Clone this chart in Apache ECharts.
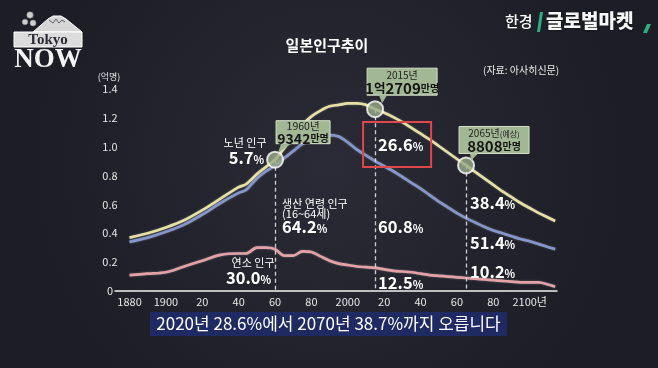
<!DOCTYPE html>
<html><head><meta charset="utf-8">
<script src="https://cdn.jsdelivr.net/npm/echarts@6/dist/echarts.min.js"></script>
<style>html,body{margin:0;padding:0;background:#22232d}#c{width:658px;height:368px}</style>
</head><body><div id="c"></div><script>
// ---- data (population, 100 million people) ----
const years      = [1880,1890,1900,1910,1920,1930,1940,1944,1950,1955,1960,1965,1970,1975,1980,1985,1990,1995,2000,2005,2010,2015,2020,2025,2030,2035,2040,2045,2050,2055,2060,2065,2070,2075,2080,2085,2090,2095,2100,2105,2110,2114];
const totalPop   = [0.37,0.40,0.44,0.49,0.56,0.64,0.72,0.74,0.81,0.86,0.91,0.99,1.07,1.15,1.21,1.25,1.28,1.29,1.30,1.30,1.29,1.26,1.235,1.205,1.17,1.13,1.09,1.05,1.005,0.96,0.915,0.87,0.825,0.78,0.735,0.69,0.65,0.61,0.575,0.54,0.51,0.485];
const under65Pop = [0.34,0.37,0.41,0.46,0.53,0.61,0.68,0.70,0.78,0.83,0.87,0.92,0.97,1.02,1.05,1.07,1.08,1.07,1.03,0.98,0.94,0.90,0.865,0.83,0.79,0.75,0.71,0.665,0.62,0.58,0.54,0.505,0.475,0.445,0.42,0.40,0.38,0.36,0.345,0.325,0.305,0.29];
const youngPop   = [0.11,0.12,0.13,0.17,0.21,0.25,0.26,0.26,0.30,0.30,0.29,0.245,0.245,0.275,0.27,0.24,0.21,0.19,0.18,0.17,0.165,0.16,0.15,0.14,0.135,0.13,0.12,0.11,0.105,0.10,0.095,0.09,0.085,0.08,0.075,0.07,0.065,0.06,0.06,0.06,0.045,0.03];
const markerYears  = [1960, 2015, 2065];
const markerTitles = ['1960년', '2015년', '2065년'];
const markerValues = [['9342','만명'], ['1','억','2709','만명'], ['8808','만명']];
const elderlyShare = ['5.7', '26.6', '38.4'];
const workingShare = ['64.2', '60.8', '51.4'];
const youngShare   = ['30.0', '12.5', '10.2'];
const xTickYears = [1880,1900,1920,1940,1960,1980,2000,2020,2040,2060,2080,2100];
const yMax = 1.4, yStep = 0.2;

const FONT = "'Noto Sans CJK KR', 'Noto Sans', sans-serif";
const chart = echarts.init(document.getElementById('c'), null, {renderer:'canvas'});
const pair = arr => years.map((y,i)=>[y, arr[i]]);
const totalAt = y => totalPop[years.indexOf(y)];

function lineSeries(name, arr, color, z){
  return {name, type:'line', data: pair(arr), symbol:'none', smooth:0.3, z,
    lineStyle:{color, width:2.7, shadowColor:'rgba(255,255,255,0.35)', shadowBlur:2},
    silent:true, animation:false};
}

chart.setOption({
  backgroundColor: {type:'radial', x:0.5, y:0.45, r:0.8, colorStops:[{offset:0,color:'#2a2b36'},{offset:1,color:'#1c1d25'}]},
  animation:false,
  textStyle:{fontFamily:FONT},
  grid:{left:115, right:101, top:89, bottom:77},
  xAxis:{type:'value', min:1872, max:2115,
    axisLine:{lineStyle:{color:'#f2f2f2', width:1.5}},
    axisTick:{show:false}, splitLine:{show:false},
    axisLabel:{customValues:xTickYears, color:'#e6e6e6', fontSize:11, margin:5, fontFamily:FONT,
      formatter:v=> v===2100 ? '2100년' : (v%100===0 || v===1880 ? String(v) : String(v%100))}
  },
  yAxis:{type:'value', min:0, max:yMax, interval:yStep,
    axisLine:{show:false}, axisTick:{show:false}, splitLine:{show:false},
    axisLabel:{color:'#e6e6e6', fontSize:11, margin:5, align:'center', fontFamily:FONT,
      formatter:v=> v===0 ? '0' : v.toFixed(1)}
  },
  series:[
    lineSeries('연소 인구', youngPop, '#e4a2a6', 3),
    lineSeries('생산 연령 인구', under65Pop, '#8596cc', 4),
    lineSeries('총인구', totalPop, '#e6e0a2', 5),
    {type:'scatter', z:10, silent:true, animation:false,
      data: markerYears.map(y=>[y, totalAt(y)]),
      symbolSize:16,
      itemStyle:{color:'#9aad8b', borderColor:'#ffffff', borderWidth:2},
      markLine:{silent:true, symbol:'none', animation:false, label:{show:false},
        lineStyle:{color:'#cfcfd4', type:[4,3], width:1.3},
        data: markerYears.map(y=>[{coord:[y, totalAt(y)]},{coord:[y, 0]}])}
    }
  ]
});

function txt(x,y,text,opt){
  return {type:'text', x, y, z:50, silent:true,
    style:Object.assign({text, fill:'#ffffff', fontFamily:FONT, fontSize:11, align:'left', verticalAlign:'middle'}, opt||{})};
}
function pct(x,y,num,align){
  return {type:'text', x, y, z:50, silent:true, style:{
    text:'{n|'+num+'}{p|%}', align:align||'left', verticalAlign:'middle',
    rich:{n:{fontFamily:FONT, fontSize:16.5, fontWeight:'bold', fill:'#ffffff'},
          p:{fontFamily:FONT, fontSize:11, fontWeight:'bold', fill:'#ffffff', padding:[3,0,0,0]}}}};
}

function build(){
  const P = (x,y)=>chart.convertToPixel({gridIndex:0},[x,y]);
  const g = [];
  // title & source
  g.push(txt(327,45,'일본인구추이',{fontSize:15, fontWeight:'bold', align:'center'}));
  g.push(txt(483,70,'(자료: 아사히신문)',{fontSize:10, fill:'#eeeeee'}));
  g.push(txt(109,77,'(억명)',{fontSize:9, fill:'#e6e6e6', align:'center'}));

  // Tokyo NOW logo
  g.push({type:'polygon', z:40, silent:true, shape:{points:[[33,32],[48,19],[53,16],[61,16],[66,19],[82,32]]}, style:{fill:'#d6d6d6', stroke:'#ffffff', lineWidth:1}});
  g.push({type:'polyline', z:41, silent:true, shape:{points:[[49,20],[53,23],[56,19],[59,23],[62,20],[65,22]]}, style:{stroke:'#5a5a66', lineWidth:1, fill:null}});
  g.push({type:'rect', z:40, silent:true, shape:{x:14,y:32,width:68,height:15}, style:{fill:'#dcdcdc', stroke:'#ffffff', lineWidth:1}});
  g.push(txt(48,40,'Tokyo',{fontFamily:"'Liberation Serif', serif", fontSize:15, fontWeight:'bold', fill:'#2b2b33', align:'center'}));
  g.push(txt(48,60,'NOW',{fontFamily:"'Liberation Serif', serif", fontSize:27, fontWeight:'bold', fill:'#f4f4f4', align:'center'}));
  [[30,15,3.2],[25,22,2.8],[33,23,3]].forEach(c=>g.push({type:'circle', z:40, silent:true, shape:{cx:c[0],cy:c[1],r:c[2]}, style:{fill:'#cfcfcf', stroke:'#8a8a92', lineWidth:0.6}}));

  // 한경 글로벌마켓 logo
  g.push(txt(505,21,'한경',{fontSize:15, fontWeight:500}));
  g.push({type:'polygon', z:40, silent:true, shape:{points:[[537,32],[540,12],[543,12],[540,32]]}, style:{fill:'#2fae83'}});
  g.push(txt(546,21,'글로벌마켓',{fontSize:19, fontWeight:900, fill:'#f6f6f6', textShadowColor:'rgba(0,0,0,0.6)', textShadowBlur:2}));
  g.push({type:'polygon', z:40, silent:true, shape:{points:[[643,33],[647,24],[651,24],[647,33]]}, style:{fill:'#2fae83'}});

  // callout boxes
  const boxDefs = [
    {dx:1, dy:-39, w:54, h:23, ptr:[[6,-16],[16,-16],[3,-7]]},
    {dx:-8, dy:-41, w:70, h:27, ptr:[[4,-14],[12,-14],[7,-6]]},
    {dx:-7, dy:-39, w:70, h:27, ptr:[[4,-12],[12,-12],[5,-5]]}
  ];
  markerYears.forEach((yr,i)=>{
    const c = P(yr, totalAt(yr));
    const d = boxDefs[i];
    const bx = c[0]+d.dx, by = c[1]+d.dy;
    g.push({type:'rect', z:45, silent:true, shape:{x:bx,y:by,width:d.w,height:d.h}, style:{fill:'#a2b794', stroke:'#d4e0ca', lineWidth:1}});
    g.push({type:'polygon', z:46, silent:true, shape:{points:d.ptr.map(p=>[c[0]+p[0], c[1]+p[1]])}, style:{fill:'#a2b794'}});
    const v = markerValues[i];
    let rtxt, rich = {
      t:{fontFamily:FONT, fontSize: i===0?10.5:10, fill:'#1e1e1e', lineHeight:11},
      e:{fontFamily:FONT, fontSize:8, fill:'#1e1e1e', lineHeight:11},
      b:{fontFamily:FONT, fontSize: i===0?14:15, fontWeight:'bold', fill:'#151515', lineHeight:15},
      s:{fontFamily:FONT, fontSize:10, fontWeight:'bold', fill:'#151515', lineHeight:15},
      m:{fontFamily:FONT, fontSize:12.5, fontWeight:'bold', fill:'#151515', lineHeight:15}
    };
    if(i===1) rtxt = '{t|'+markerTitles[i]+'}\n{b|'+v[0]+'}{m|'+v[1]+'}{b|'+v[2]+'}{s|'+v[3]+'}';
    else if(i===2) rtxt = '{t|'+markerTitles[i]+'}{e|(예상)}\n{b|'+v[0]+'}{s|'+v[1]+'}';
    else rtxt = '{t|'+markerTitles[i]+'}\n{b|'+v[0]+'}{s|'+v[1]+'}';
    g.push({type:'text', z:47, silent:true, x:bx+d.w/2, y:by+d.h/2+1, style:{text:rtxt, rich, align:'center', verticalAlign:'middle'}});
  });

  const x1 = P(1960,0)[0], x2 = P(2015,0)[0], x3 = P(2065,0)[0];
  // 1960 annotations
  g.push(txt(x1-30,143,'노년 인구',{align:'center'}));
  g.push(pct(x1-11,158,elderlyShare[0],'right'));
  g.push(txt(x1+7,204,'생산 연령 인구',{}));
  g.push(txt(x1+7,214,'(16~64세)',{}));
  g.push(pct(x1+7,227,workingShare[0]));
  g.push(txt(x1-22,263,'연소 인구',{align:'center'}));
  g.push(pct(x1-4,278,youngShare[0],'right'));
  // 2015
  g.push({type:'rect', z:44, silent:true, shape:{x:x2-12,y:122,width:68,height:45}, style:{fill:null, stroke:'#e0474c', lineWidth:2}});
  g.push(pct(x2+3,145,elderlyShare[1]));
  g.push(pct(x2+3,227,workingShare[1]));
  g.push(pct(x2+3,283,youngShare[1]));
  // 2065
  g.push(pct(x3+4,203,elderlyShare[2]));
  g.push(pct(x3+4,243,workingShare[2]));
  g.push(pct(x3+4,272,youngShare[2]));

  // caption
  g.push({type:'rect', z:40, silent:true, shape:{x:150,y:312,width:357,height:24}, style:{fill:'#1f2a62'}});
  g.push(txt(328.5,324,'2020년 28.6%에서 2070년 38.7%까지 오릅니다',{fontSize:17, align:'center', fill:'#ffffff'}));

  chart.setOption({graphic:g});
}
build();
</script></body></html>
